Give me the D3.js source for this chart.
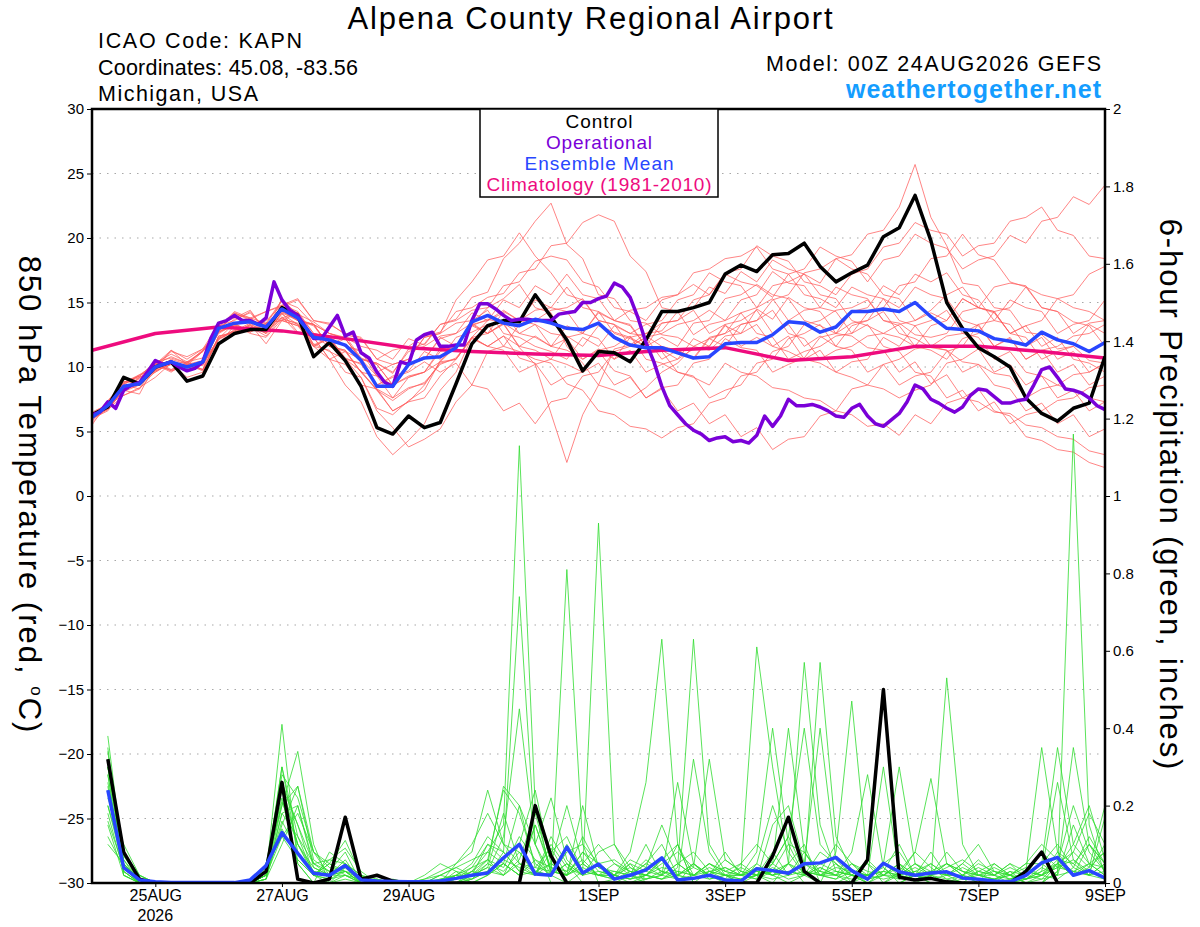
<html lang="en">
<head>
<meta charset="utf-8">
<title>Alpena County Regional Airport - GEFS</title>
<script src="https://cdn.jsdelivr.net/npm/d3@7"></script>
<style>
  body { margin: 0; background: #fff; }
  text { font-family: "Liberation Sans", Arial, Helvetica, sans-serif; }
  .grid { stroke: #a8a8a8; stroke-width: 1.2; stroke-dasharray: 1.5,6; }
  .tmem { fill: none; stroke: #ff5c5c; stroke-width: 0.75; }
  .pmem { fill: none; stroke: #2fdc2f; stroke-width: 0.8; }
  .thick { fill: none; stroke-width: 3.5; stroke-linejoin: round; }
  .axis text { font-size: 15px; fill: #000; }
  .axis line { stroke: #000; }
</style>
</head>
<body>
<script>

// x axis labels (days after 24AUG 00Z)
var tickDays = [1, 3, 5, 8, 10, 12, 14, 16];
var tickLabels = ["25AUG", "27AUG", "29AUG", "1SEP", "3SEP", "5SEP", "7SEP", "9SEP"];
var tempTicks = [-30, -25, -20, -15, -10, -5, 0, 5, 10, 15, 20, 25, 30];
var precipTicks = [0, 0.2, 0.4, 0.6, 0.8, 1, 1.2, 1.4, 1.6, 1.8, 2];

// 850 hPa temperature, 6-hourly from 24AUG 00Z
var controlTemp = [6.3, 6.9, 9.2, 8.7, 10.0, 10.4, 8.9, 9.3, 11.8, 12.6,
  12.9, 12.9, 14.6, 14.0, 10.8, 11.9, 10.5, 8.5, 5.3, 4.8,
  6.2, 5.3, 5.7, 8.7, 11.8, 13.2, 13.6, 13.5, 15.6, 13.9,
  12.1, 9.7, 11.2, 11.1, 10.4, 12.1, 14.3, 14.3, 14.6, 15.0,
  17.2, 17.9, 17.4, 18.7, 18.8, 19.6, 17.8, 16.6, 17.3, 17.9,
  20.1, 20.8, 23.3, 19.8, 15.0, 13.0, 11.5, 10.8, 10.0, 7.6,
  6.4, 5.8, 6.8, 7.2, 10.8];

var meanTemp = [6.1, 7.0, 8.5, 8.7, 10.0, 10.4, 10.0, 10.4, 13.0, 13.4,
  13.5, 13.1, 14.5, 13.8, 12.3, 12.1, 11.7, 10.5, 8.5, 8.5,
  10.2, 10.7, 10.8, 11.5, 13.5, 14.0, 13.4, 13.2, 13.7, 13.4,
  13.0, 12.9, 13.4, 12.3, 11.7, 11.5, 11.5, 11.1, 10.7, 10.8,
  11.8, 11.9, 11.9, 12.5, 13.5, 13.4, 12.7, 13.1, 14.3, 14.3,
  14.5, 14.3, 15.0, 13.9, 13.0, 12.9, 12.8, 12.2, 12.0, 11.7,
  12.7, 12.1, 11.8, 11.2, 11.9];

// operational run, 3-hourly
var operTemp = [6.3, 6.5, 7.3, 6.8, 8.2, 8.6, 8.8, 9.6, 10.5, 10.2,
  10.4, 10.0, 9.7, 9.9, 10.4, 12.2, 13.4, 13.6, 14.0, 13.6,
  13.6, 13.3, 13.8, 16.6, 15.2, 14.4, 14.0, 13.1, 12.2, 12.2,
  13.1, 14.0, 12.4, 12.7, 11.1, 10.7, 9.6, 8.8, 8.5, 10.4,
  10.2, 12.1, 12.5, 12.7, 11.6, 11.6, 11.7, 11.7, 13.6, 14.9,
  14.9, 14.5, 14.0, 13.6, 13.7, 13.7, 13.6, 13.6, 13.6, 14.1,
  14.2, 14.3, 15.0, 15.0, 15.3, 15.5, 16.5, 16.2, 15.4, 13.8,
  11.9, 10.4, 8.5, 7.0, 6.3, 5.6, 5.1, 4.8, 4.3, 4.5,
  4.6, 4.2, 4.3, 4.1, 4.7, 6.2, 5.4, 6.2, 7.5, 7.0,
  7.0, 7.1, 6.9, 6.6, 6.2, 6.1, 6.8, 7.1, 6.2, 5.6,
  5.4, 5.9, 6.4, 7.3, 8.6, 8.3, 7.5, 7.2, 6.8, 6.5,
  6.9, 7.8, 8.3, 8.2, 7.7, 7.2, 7.2, 7.4, 7.5, 8.6,
  9.8, 10.0, 9.2, 8.3, 8.2, 8.0, 7.6, 7.0, 6.7];

// climatology, daily at 00Z
var climTemp = [11.3, 12.6, 13.1, 12.8, 12.2, 11.5, 11.2, 11.0, 10.9, 11.3,
  11.5, 10.5, 10.8, 11.6, 11.6, 11.2, 10.7];

// ensemble members, 6-hourly
var tempMembers = [
  [6,7.2,8.4,8.8,10.3,11,10.4,11.2,13.1,14.3,13.8,13.4,15.2, 14.1,13.5,12.6,12.2,10.6,10.3,9.5,11.4,11.8,13.3,13.7,15.4,
   15.8,18.4,19.6,21.3,22.7,19.5,18.4,15.6,15.3,13.6,13.4,12.5,12.3,11.6,11.3,12.4, 12.6,14.5,13.7,15.4,14.6,14.3,12.6,12.4,11.5,11.3,9.6,10.4,
   8.7,9.4,7.6,7.3,6.5,6.4,5.5,5.3,4.6,4.4,3.5,3.2],
  [5.5,7.3,8.7,9.2,9.8,10.4,9.7,10.3,12.2,13.4,12.7,13.3,13.8, 14.2,11.6,11.3,9.6,9.2,6.8,6.3,7.4,8.2,10.5,11.6,13.2,
   13.7,13.4,11.5,10.2,6.4,2.6,6.3,8.6,11.4,11.7,12.6,12.8,14.3,14.6,16.2,15.7, 17.4,16.6,18.3,17.6,17.2,16.5,18.4,18.7,20.3,20.6,22.4,25.7,
   21.6,19.4,16.5,16.3,14.6,14.4,12.7,12.5,11.4,11.6,10.5,10.3],
  [6.1,6.8,8.2,7.9,10.2,9.7,10.1,9.8,12.3,12.8,13.2,12.6,14.1, 13.3,11.8,11.2,10.6,9.7,8.2,7.4,8.3,8.8,10.2,10.7,12.3,
   11.6,12.4,10.7,10.3,8.6,9.3,9.6,11.2,9.7,9.3,7.6,8.4,8.6,10.3,10.6,12.2, 11.5,11.3,9.6,10.2,10.7,12.3,12.6,13.4,13.6,14.3,12.6,12.2,
   11.5,11.3,10.4,10.2,9.5,9.3,7.6,8.3,8.6,9.4,9.6,10.3],
  [6.5,7.1,8.8,9.3,10.1,11.2,10.8,11.4,12.8,14.2,13.7,14.3,14.8, 15.3,13.6,13.4,12.5,12.2,10.6,11.3,11.6,12.4,12.7,14.3,14.6,
   15.4,15.7,17.3,17.6,19.4,19.6,21.2,21.8,21.3,18.6,17.4,14.6,14.3,12.5,13.3,13.6, 15.2,15.6,17.4,16.5,16.3,14.6,14.3,12.6,14.2,14.6,16.3,16.6,
   18.4,18.6,20.3,18.7,18.3,16.6,16.2,14.6,14.3,13.5,13.2,11.6],
  [6,6.6,8.3,8.7,9.6,10.3,9.2,9.6,12.4,12.7,13.3,11.8,13.6, 13.2,11.6,12.3,10.7,10.2,8.6,9.3,9.7,11.2,10.6,12.3,12.7,
   13.3,11.6,11.2,10.6,10.3,8.7,8.2,6.6,6.3,5.4,5.2,4.5,5.3,5.6,7.2,7.6, 9.3,9.6,11.2,11.6,13.3,13.6,14.4,14.6,15.2,13.6,13.4,12.5,
   12.3,12.6,14.3,14.6,16.2,16.5,16.3,14.6,14.3,12.6,13.4,13.6],
  [6,7,8.1,9.2,9.8,10.6,10.2,10.5,12.7,13.4,13.6,13.2,14.3, 13.7,13.3,11.6,12.4,10.7,10.2,8.6,10.3,10.6,12.2,12.6,14.2,
   13.6,14.4,13.6,13.3,12.6,12.4,11.6,13.2,12.7,12.3,11.6,13.4,13.6,15.2,15.6,17.3, 17.6,19.4,18.6,18.2,16.6,16.3,15.6,17.2,17.6,19.3,19.6,21.2,
   20.6,20.3,18.6,19.4,19.6,21.3,21.6,22.4,20.6,20.2,18.6,18.4],
  [5.8,7.2,8.6,8.3,10.2,9.6,10.4,10.7,12.6,13.3,12.7,13.4,13.6, 13.2,12.4,11.6,12.2,10.6,9.3,7.6,9.2,9.6,11.4,11.6,13.3,
   13.6,14.2,12.6,13.3,11.6,12.2,10.6,11.3,11.6,12.4,10.6,10.3,9.6,9.2,8.6,10.3, 9.6,9.3,8.4,8.2,7.6,7.4,6.6,6.3,5.4,5.6,4.7,6.3,
   5.6,7.2,7.6,8.3,6.6,6.2,4.6,4.3,3.6,3.4,2.6,2.2],
  [6.2,6.7,8.3,9.1,9.7,11.3,10.2,9.8,13.2,13.6,14.3,12.8,14.6, 14.2,11.7,12.3,10.6,9.2,6.6,5.3,3.8,4.4,5.2,7.3,8.6,
   11.2,11.6,13.3,13.6,14.4,14.6,15.3,13.6,13.3,12.6,12.4,11.6,11.3,10.7,12.3,12.6, 14.2,14.6,16.3,16.6,17.2,15.6,15.3,13.6,13.2,12.6,12.3,11.6,
   13.2,13.6,15.3,14.6,14.2,12.6,12.3,10.6,11.2,11.6,13.3,12.6],
  [6,7.1,7.8,8.4,9.2,10.3,9.7,10.3,11.8,13.2,12.6,12.3,13.7, 13.4,11.6,10.6,8.6,7.3,4.6,3.2,4.3,5.6,8.2,9.6,12.3,
   12.6,13.4,13.6,14.4,14.6,16.2,14.6,14.3,12.6,12.2,11.6,11.3,10.6,12.2,11.6,13.2, 12.6,13.3,11.6,12.4,10.6,11.3,9.6,10.4,10.6,12.3,11.6,13.2,
   13.6,14.4,12.6,12.3,10.6,11.2,9.6,9.3,8.6,8.2,7.6,7.3],
  [6.2,7.3,8.7,9.3,10.4,9.8,10.2,11.3,12.8,13.7,14.2,12.8,14.3, 13.6,13.3,12.6,12.3,11.6,11.3,10.6,12.2,11.7,13.3,13.6,14.4,
   14.6,16.3,16.6,18.2,18.6,18.3,16.6,16.2,14.6,14.3,13.6,15.2,15.6,17.3,17.6,18.4, 18.6,19.3,17.6,17.2,15.6,15.3,14.6,16.2,15.6,15.3,13.6,13.2,
   11.6,11.3,9.6,10.2,8.6,8.3,6.6,7.2,5.6,6.3,4.6,5.2],
  [6,6.8,8.2,8.8,9.7,10.2,9.8,10.3,12.2,12.8,13.4,12.6,14.2, 13.6,13.2,11.6,11.3,9.6,8.3,7.6,8.4,8.7,10.3,10.6,12.2,
   11.6,11.3,9.6,10.2,10.6,12.3,12.6,14.2,13.6,13.3,11.6,11.2,9.6,9.3,7.6,8.2, 8.6,10.3,10.6,12.2,12.6,13.3,11.6,11.3,9.6,10.2,8.6,9.3,
   9.6,11.2,11.6,13.3,13.6,15.2,14.6,14.3,12.6,13.3,13.6,15.2],
  [6,7.4,8.8,9.3,10.2,11.3,10.6,11.4,13.3,13.8,14.4,12.7,15.3, 13.6,13.3,12.6,12.2,10.6,10.3,9.6,11.2,11.6,12.4,12.6,13.4,
   12.6,13.3,11.6,12.4,11.6,13.2,12.6,14.3,13.6,14.4,14.6,15.4,15.6,16.4,15.6,17.2, 16.6,16.3,15.4,17.2,17.6,19.3,18.6,18.2,16.6,18.3,18.6,20.3,
   19.6,19.2,17.6,18.3,18.6,20.2,19.6,21.3,21.6,23.2,22.6,24.1],
  [5.7,6.9,8.3,8.6,10.3,9.7,10.2,9.7,12.4,12.6,13.3,12.7,13.8, 13.3,11.6,12.2,10.6,10.3,8.6,9.2,9.6,10.4,9.6,10.3,8.6,
   8.3,6.6,7.2,5.6,7.3,7.6,9.3,9.6,11.2,11.6,12.3,12.6,13.3,13.6,14.4,13.6, 14.2,12.6,12.3,10.6,11.2,11.6,12.4,12.6,13.3,11.6,11.2,9.6,
   9.3,7.6,8.2,6.6,7.3,5.6,6.3,6.6,7.4,7.6,8.4,8.6],
  [6,7.2,8.9,8.7,10.4,10.7,10.3,11.2,12.8,14.1,13.8,14.3,14.7, 15.2,13.6,13.3,12.6,12.3,10.6,10.2,10.6,12.3,12.6,15.2,16.6,
   18.3,18.6,20.4,18.6,17.3,15.6,15.2,13.6,13.3,11.6,12.3,10.6,11.3,10.6,12.2,11.6, 13.3,13.6,15.2,15.6,17.3,17.6,18.4,17.6,17.2,15.6,15.3,13.6,
   14.2,13.6,15.3,14.6,14.3,12.6,13.2,11.6,12.3,10.6,10.3,9.6],
  [6.3,6.8,8.2,9.2,9.6,10.4,9.7,10.3,12.7,13.2,12.8,13.4,13.6, 14.2,12.6,12.3,11.6,11.2,9.3,8.6,10.2,10.6,12.3,11.6,13.2,
   12.6,14.3,13.6,15.2,14.6,14.3,12.6,12.2,10.6,11.3,9.6,10.2,10.6,11.4,11.6,13.3, 13.6,14.4,12.6,13.3,11.6,12.4,11.6,13.2,13.6,15.3,14.6,16.2,
   15.6,15.3,13.6,13.2,11.6,12.3,10.6,11.3,11.6,12.4,12.6,13.3],
  [6,6.7,7.8,8.3,9.7,10.2,10.4,9.8,12.2,12.7,13.2,12.6,14.2, 12.7,12.3,10.6,11.2,9.6,9.3,8.6,9.2,9.6,10.4,10.6,12.3,
   11.6,12.4,11.6,11.3,10.6,10.2,9.6,10.3,8.6,9.2,7.6,8.3,6.6,7.2,5.6,6.3, 4.6,5.3,3.6,4.4,4.6,6.2,6.6,8.3,8.6,10.2,10.6,11.4,
   11.6,12.4,12.6,13.3,11.6,12.2,10.6,11.3,9.6,10.2,8.6,9.3],
  [6.4,7.1,8.8,9.4,10.2,10.8,10.3,11.3,12.9,14.2,13.6,13.3,15.1, 14.6,13.3,11.6,11.3,9.6,8.2,6.6,7.3,7.6,9.3,10.6,12.3,
   13.6,15.2,14.6,16.3,15.6,17.2,15.6,15.3,13.6,13.2,11.6,12.3,11.6,13.4,13.6,15.3, 15.6,16.4,15.6,15.3,13.6,13.2,12.6,14.3,14.6,16.3,15.6,17.2,
   16.6,17.3,15.6,15.2,13.6,13.3,11.6,12.3,10.6,11.2,9.6,10.3],
  [6,7,8.4,8.8,10.1,9.8,10.3,10.1,12.8,13.2,13.8,12.9,14.4, 13.6,13.3,11.6,11.2,10.6,10.2,8.6,9.3,9.6,11.2,11.6,13.3,
   12.6,13.4,12.6,12.3,11.6,11.3,10.6,11.4,10.6,12.3,12.6,13.4,13.6,14.4,12.6,13.3, 11.6,12.3,11.6,11.2,10.6,10.3,9.6,9.2,8.6,8.3,7.6,8.2,
   8.6,10.3,10.6,11.4,9.6,10.2,8.6,9.3,7.6,8.2,6.6,7.3],
  [6.1,7.3,8.6,9.4,9.8,10.3,10.1,11.2,12.7,13.3,12.8,13.6,14.8, 14.3,12.6,12.3,11.6,11.3,9.6,10.2,10.6,12.3,12.6,13.4,13.6,
   14.4,12.6,12.3,11.6,11.2,10.6,12.3,11.6,13.2,12.6,13.3,13.6,15.2,15.6,17.3,16.6, 16.3,14.6,15.3,13.6,14.4,14.6,16.2,15.6,15.3,13.6,13.2,11.6,
   11.3,10.6,12.2,12.6,14.3,14.6,16.2,15.6,15.3,14.6,14.3,13.6],
  [6,6.8,8.1,8.6,9.9,10.4,9.9,10.2,12.1,12.9,13.1,12.4,13.9, 12.6,12.3,10.6,10.2,8.6,8.3,6.6,7.3,8.6,10.4,11.6,13.3,
   14.6,15.3,16.4,14.6,14.2,11.6,10.3,8.6,8.2,7.6,8.4,9.6,10.3,11.6,12.2,12.6, 13.3,13.6,14.4,12.6,12.2,10.6,11.3,11.6,12.4,12.6,13.3,13.6,
   14.4,15.6,16.2,14.6,14.3,12.6,13.2,13.6,15.3,15.6,17.2,17.8]
];

// 6-hour precipitation (inches), 24AUG 06Z onward
var controlPrecip = [0.32, 0.08, 0.01, 0, 0, 0, 0, 0,
  0, 0, 0.03, 0.26, 0.01, 0, 0.01, 0.17,
  0.01, 0.02, 0.005, 0, 0, 0, 0, 0,
  0, 0, 0, 0.2, 0.07, 0, 0, 0,
  0, 0, 0, 0, 0, 0, 0, 0,
  0, 0, 0.07, 0.17, 0.03, 0, 0, 0,
  0.06, 0.5, 0.015, 0.008, 0.012, 0.003, 0, 0,
  0, 0, 0.03, 0.08, 0, 0, 0, 0];

var meanPrecip = [0.24, 0.04, 0.008, 0.003, 0.001, 0.001, 0.001, 0.001,
  0.001, 0.008, 0.045, 0.13, 0.077, 0.025, 0.02, 0.045,
  0.008, 0.005, 0.004, 0.003, 0.003, 0.005, 0.012, 0.02,
  0.026, 0.065, 0.1, 0.023, 0.02, 0.093, 0.026, 0.049,
  0.01, 0.02, 0.034, 0.065, 0.008, 0.012, 0.02, 0.008,
  0.005, 0.037, 0.032, 0.025, 0.05, 0.052, 0.066, 0.032,
  0.01, 0.051, 0.029, 0.02, 0.026, 0.029, 0.013, 0.01,
  0.005, 0.003, 0.02, 0.052, 0.066, 0.02, 0.032, 0.013];

var precipMembers = [
  [.38,.05,0,0,0,0,0,0, 0,0,.02,.41,.05,0,0,.02, 0,0,0,0,0,0,.01,.03, .08,.15,1.13,.2,.02,0,0,0,
   .01,.05,0,0,0,0,0,0, 0,.02,0,.05,.1,0,0,0, 0,0,0,.02,0,0,0,0, 0,.03,0,0,.05,.02,.1,.05],
  [.3,.08,.02,0,0,0,0,0, 0,0,.05,.2,.34,.1,0,.04, .01,0,0,0,0,0,0,.02, .06,.24,.18,.05,.02,.81,.1,0,
   0,0,.02,.06,.1,0,0,0, .03,.61,.3,.05,0,0,0,.02, 0,.02,.05,0,0,0,.01,.03, .02,0,0,.01,.05,.2,.08,.03],
  [.25,.03,0,0,0,0,0,0, 0,0,.03,.3,.08,.02,.05,.11, .02,0,0,0,0,0,.02,.05, .12,.08,.74,.1,0,0,.03,.93,
   .1,.02,0,0,0,.05,.02,0, 0,0,.05,.12,.4,.1,.05,0, 0,0,.02,.08,.04,.01,0,0, 0,0,.01,.04,.02,1.16,.15,.02],
  [.2,.04,.01,0,0,0,0,0, 0,0,.01,.25,.15,.05,.02,.06, 0,0,.01,0,0,0,0,.02, .04,.02,.06,.18,.03,.02,.2,.04,
   .02,.08,.26,.63,.1,0,.03,.02, 0,.04,.02,0,.02,.57,.12,.03, 0,.03,.1,.02,0,0,.02,0, .05,.02,0,0,.03,.08,.04,.2],
  [.35,.02,0,0,0,0,0,0, 0,0,.04,.22,.05,0,.08,.05, .01,0,0,0,.01,.03,.05,.1, .18,.1,.05,.02,.12,.05,0,0,
   0,.02,.05,.03,.01,.32,.08,.02, 0,.05,.2,.08,.02,0,.08,.47, .05,0,0,.02,.08,.02,0,0, 0,.01,.03,.35,.08,.02,.05,.02],
  [.28,.06,.01,0,0,0,0,0, 0,0,.02,.18,.2,.05,.03,.08, 0,.01,0,0,0,0,0,.01, .05,.25,.2,.1,.22,.06,.02,.05,
   .02,.01,.04,.15,.05,.02,.05,.03, .02,.08,.4,.1,.02,.03,.02,.08, .28,.04,0,0,.02,.05,.03,.01, 0,0,.02,.05,.1,.04,.02,.05],
  [.22,.1,.02,0,0,0,0,0, 0,0,.01,.15,.25,.08,.05,.02, 0,0,0,0,.02,.05,.03,0, .02,.05,.02,.15,.03,.02,.08,.05,
   .02,0,.01,.02,.05,.08,.03,.01, .05,.02,.05,.4,.08,.03,.02,0, .02,.05,.3,.05,.02,0,0,.03, .05,.02,0,0,.03,.35,.1,.05],
  [.18,.03,0,0,0,0,0,0, 0,0,.02,.3,.12,.02,0,.01, 0,0,0,0,0,0,.05,.08, .24,.1,.08,.03,.05,.2,.05,.02,
   .01,.02,.05,.1,.02,.01,.02,.08, .02,.03,.02,.05,.57,.15,.03,.02, 0,0,.03,.08,.27,.05,.02,0, 0,0,.01,.02,.05,.08,.18,.1],
  [.32,.04,0,0,0,0,0,0, 0,0,.02,.12,.06,.02,.06,.09, .03,0,0,0,0,.02,.04,.02, .03,.12,.45,.1,.02,.1,.03,.02,
   .05,.02,.1,.02,.26,.05,.01,.02, .01,.02,.03,.1,.08,.02,.01,.05, .03,.02,.05,.02,.01,.53,.1,.02, .01,0,0,.02,.08,.05,.02,.17],
  [.15,.02,0,0,0,0,0,0, 0,0,.05,.25,.1,.03,.02,.04, .01,0,0,0,0,0,0,.03, .06,.02,.1,.24,.05,.02,.05,.1,
   .05,.03,.02,.01,.04,.63,.1,.03, .02,.01,.15,.2,.05,.02,.03,.02, .01,.02,.05,.02,.03,.02,.05,.1, .03,.02,.05,.1,.06,.03,.02,.01],
  [.3,.07,.01,0,0,0,0,0, 0,0,.03,.21,.1,.02,.01,.03, .02,0,0,0,0,0,.02,0, .02,.05,.2,.04,.09,.02,.05,.02,
   .02,.01,.02,.05,.08,.04,.32,.06, .03,.02,.01,.02,.05,.4,.06,.02, .01,.05,.02,.01,.02,.08,.03,.02, .02,.05,.01,.03,.26,.06,.02,.03],
  [.26,.05,.01,0,0,0,0,0, 0,0,.02,.28,.22,.08,.04,.03, 0,0,0,0,0,0,.01,.02, .1,.08,.03,.15,.04,.03,.06,.02,
   .03,.02,.01,.03,.02,.05,.02,.04, .02,.05,.02,.03,.02,.08,.05,.02, .02,.3,.02,.05,.02,.01,.02,.05, .03,.01,.02,.08,.04,.1,.2,.06],
  [.2,.06,0,0,0,0,0,0, 0,0,.01,.18,.12,.05,.06,.05, .02,.01,0,0,0,.01,.02,.04, .06,.04,.12,.06,.02,.08,.1,.05,
   .02,.05,.03,.02,.01,.02,.05,.03, .05,.1,.05,.02,.05,.03,.1,.05, .02,.03,.02,.04,.02,.05,.03,.02, .01,.02,.05,.05,.35,.1,.05,.02],
  [.34,.03,0,0,0,0,0,0, 0,0,.02,.16,.08,.03,.02,.02, 0,0,0,0,.01,.02,.04,.06, .08,.05,.02,.03,.02,.05,.02,.08,
   .1,.04,.02,.01,.02,.01,.03,.02, .01,.02,.08,.02,.03,.02,.04,.03, .02,.05,.08,.02,.05,.02,.02,.06, .02,.01,.03,.02,.06,.05,.1,.03],
  [.12,.04,0,0,0,0,0,0, 0,0,.01,.1,.2,.04,.02,.03, .01,0,0,0,0,0,.03,.02, .05,.03,.08,.02,.1,.04,.02,.05,
   .06,.03,.02,.04,.03,.02,.01,.02, .04,.02,.03,.01,.02,.05,.03,.02, .05,.02,.01,.03,.02,.04,.06,.03, .02,.04,.02,.01,.02,.03,.05,.08],
  [.28,.02,0,0,0,0,0,0, 0,0,.02,.2,.25,.06,.03,.04, 0,0,0,0,0,.01,.02,.02, .04,.18,.05,.03,.02,.05,.02,.03,
   .02,.06,.04,.02,.1,.02,.05,.02, .02,.03,.02,.05,.03,.02,.02,.03, .02,.01,.02,.03,.05,.02,.02,.01, .01,.03,.02,.05,.02,.15,.05,.04],
  [.24,.08,.01,0,0,0,0,0, 0,0,.03,.26,.15,.02,.05,.03, 0,.01,0,0,0,0,.01,.03, .02,.08,.03,.02,.05,.03,.12,.04,
   .03,.02,.06,.03,.02,.05,.02,.06, .03,.02,.05,.12,.03,.02,.05,.02, .06,.02,.02,.05,.03,.02,.05,.02, .03,.02,.04,.02,.04,.06,.03,.1],
  [.1,.05,.01,0,0,0,0,0, 0,0,.02,.14,.06,.02,.01,.02, .01,0,0,0,0,0,0,.01, .03,.02,.05,.04,.03,.02,.04,.02,
   .02,.01,.02,.01,.03,.02,.04,.02, .02,.04,.02,.03,.02,.04,.02,.01, .02,.03,.02,.01,.02,.03,.01,.02, .01,.02,.01,.02,.04,.03,.02,.05],
  [.16,.04,.02,0,0,0,0,0, 0,0,.04,.12,.18,.08,.02,.05, .02,0,0,0,0,.02,.01,.04, .1,.06,.04,.02,.08,.12,.03,.02,
   .01,.03,.02,.06,.02,.04,.02,.01, .01,.02,.04,.02,.08,.02,.01,.03, .02,.04,.01,.02,.03,.05,.02,.04, .02,.05,.03,.02,.01,.04,.12,.05],
  [.3,.05,0,0,0,0,0,0, 0,0,.02,.24,.1,.04,.02,.03, 0,0,0,0,0,0,.02,.01, .03,.05,.02,.06,.04,.02,.08,.03,
   .02,.04,.01,.02,.05,.02,.03,.04, .02,.01,.03,.05,.02,.04,.02,.05, .01,.02,.04,.02,.01,.02,.04,.02, .04,.02,.01,.03,.05,.02,.04,.08]
];

var t0 = Date.UTC(2026, 7, 24, 0);
function at(hours) { return new Date(t0 + hours * 3600 * 1000); }

var w = 1200, h = 927;
var plotLeft = 92, plotRight = 1105, plotTop = 109, plotBottom = 883;

var xScale = d3.scaleUtc().domain([at(0), at(384)]).range([plotLeft, plotRight]);
var yTemp = d3.scaleLinear().domain([-30, 30]).range([plotBottom, plotTop]);
var yPrecip = d3.scaleLinear().domain([0, 2]).range([plotBottom, plotTop]);

var svg = d3.select("body").append("svg")
  .attr("width", w)
  .attr("height", h);

svg.append("defs").append("clipPath").attr("id", "plot")
  .append("rect").attr("x", plotLeft).attr("y", plotTop)
  .attr("width", plotRight - plotLeft).attr("height", plotBottom - plotTop);

// gridlines
svg.append("g").selectAll("line")
  .data(tempTicks.slice(1, -1))
  .enter().append("line")
  .attr("class", "grid")
  .attr("x1", plotLeft).attr("x2", plotRight)
  .attr("y1", function(d) { return yTemp(d); })
  .attr("y2", function(d) { return yTemp(d); });

var line6 = d3.line()
  .x(function(d, i) { return xScale(at(i * 6)); })
  .y(function(d) { return yTemp(d); });
var line3 = d3.line()
  .x(function(d, i) { return xScale(at(i * 3)); })
  .y(function(d) { return yTemp(d); });
var lineDay = d3.line()
  .x(function(d, i) { return xScale(at(i * 24)); })
  .y(function(d) { return yTemp(d); });
var lineP = d3.line()
  .x(function(d, i) { return xScale(at((i + 1) * 6)); })
  .y(function(d) { return yPrecip(d); });

var plot = svg.append("g").attr("clip-path", "url(#plot)");

plot.selectAll(".tmem")
  .data(tempMembers)
  .enter().append("path")
  .attr("class", "tmem")
  .attr("d", line6);

plot.selectAll(".pmem")
  .data(precipMembers)
  .enter().append("path")
  .attr("class", "pmem")
  .attr("d", lineP);

plot.append("path").attr("class", "thick").attr("stroke", "#ee0b7e").attr("d", lineDay(climTemp));
plot.append("path").attr("class", "thick").attr("stroke", "#000").attr("d", line6(controlTemp));
plot.append("path").attr("class", "thick").attr("stroke", "#7a00d8").attr("d", line3(operTemp));
plot.append("path").attr("class", "thick").attr("stroke", "#2846ff").attr("d", line6(meanTemp));
plot.append("path").attr("class", "thick").attr("stroke", "#000").attr("d", lineP(controlPrecip));
plot.append("path").attr("class", "thick").attr("stroke", "#2846ff").attr("d", lineP(meanPrecip));

// axes
var yAxisLeft = d3.axisLeft(yTemp).tickValues(tempTicks).tickSize(5).tickPadding(3);
svg.append("g").attr("class", "axis")
  .attr("transform", "translate(" + plotLeft + ",0)")
  .call(yAxisLeft)
  .call(function(g) { g.select(".domain").remove(); });

var yAxisRight = d3.axisRight(yPrecip).tickValues(precipTicks)
  .tickFormat(function(d) { return String(d); }).tickSize(5).tickPadding(3);
svg.append("g").attr("class", "axis")
  .attr("transform", "translate(" + plotRight + ",0)")
  .call(yAxisRight)
  .call(function(g) { g.select(".domain").remove(); });

var xAxis = d3.axisBottom(xScale)
  .tickValues(tickDays.map(function(d) { return at(d * 24); }))
  .tickFormat(function(d, i) { return tickLabels[i]; })
  .tickSize(4).tickPadding(3);
svg.append("g").attr("class", "axis")
  .attr("transform", "translate(0," + plotBottom + ")")
  .call(xAxis)
  .call(function(g) { g.select(".domain").remove(); })
  .selectAll("text").style("font-size", "16px");

svg.append("text")
  .attr("x", xScale(at(24))).attr("y", 921)
  .attr("text-anchor", "middle").style("font-size", "16px")
  .text("2026");

// frame
svg.append("rect")
  .attr("x", plotLeft).attr("y", plotTop)
  .attr("width", plotRight - plotLeft).attr("height", plotBottom - plotTop)
  .attr("fill", "none").attr("stroke", "#000").attr("stroke-width", 2.5);

// titles (text widths matched to the reference with textLength)
svg.append("text").attr("x", 590).attr("y", 29)
  .attr("text-anchor", "middle").style("font-size", "31px")
  .attr("textLength", 485).attr("lengthAdjust", "spacing")
  .text("Alpena County Regional Airport");

var info = ["ICAO Code: KAPN", "Coordinates: 45.08, -83.56", "Michigan, USA"];
var infoWidth = [204, 260, 160];
svg.selectAll(".info").data(info).enter().append("text")
  .attr("class", "info")
  .attr("x", 98).attr("y", function(d, i) { return 48 + i * 26.5; })
  .style("font-size", "21.5px")
  .attr("textLength", function(d, i) { return infoWidth[i]; })
  .attr("lengthAdjust", "spacing")
  .text(function(d) { return d; });

svg.append("text").attr("x", 1101).attr("y", 71)
  .attr("text-anchor", "end").style("font-size", "21.5px")
  .attr("textLength", 335).attr("lengthAdjust", "spacing")
  .text("Model: 00Z 24AUG2026 GEFS");
svg.append("text").attr("x", 1101).attr("y", 98)
  .attr("text-anchor", "end").style("font-size", "25px").style("font-weight", "bold")
  .attr("textLength", 255).attr("lengthAdjust", "spacing")
  .attr("fill", "#149dff")
  .text("weathertogether.net");

// axis titles
var yl = svg.append("text")
  .attr("transform", "translate(19,495) rotate(90)")
  .attr("text-anchor", "middle").style("font-size", "31px")
  .style("letter-spacing", "2px");
yl.append("tspan").text("850 hPa Temperature (red, ");
yl.append("tspan").attr("dy", -12).style("font-size", "17px").text("o");
yl.append("tspan").attr("dy", 12).text("C)");

svg.append("text")
  .attr("transform", "translate(1160,495) rotate(90)")
  .attr("text-anchor", "middle").style("font-size", "31px")
  .style("letter-spacing", "1.9px")
  .text("6-hour Precipitation (green, inches)");

// legend
var legendNames = ["Control", "Operational", "Ensemble Mean", "Climatology (1981-2010)"];
var legendColors = ["#000", "#7a00d8", "#2846ff", "#ee0b7e"];
var legendWidth = [67, 106, 149, 225];
svg.append("rect")
  .attr("x", 480).attr("y", plotTop).attr("width", 238).attr("height", 88)
  .attr("fill", "#fff").attr("stroke", "#000").attr("stroke-width", 1.5);
svg.selectAll(".leg").data(legendNames).enter().append("text")
  .attr("class", "leg")
  .attr("x", 599).attr("y", function(d, i) { return 127.5 + i * 21.3; })
  .attr("text-anchor", "middle").style("font-size", "19px")
  .attr("textLength", function(d, i) { return legendWidth[i]; })
  .attr("lengthAdjust", "spacing")
  .attr("fill", function(d, i) { return legendColors[i]; })
  .text(function(d) { return d; });

</script>
</body>
</html>
